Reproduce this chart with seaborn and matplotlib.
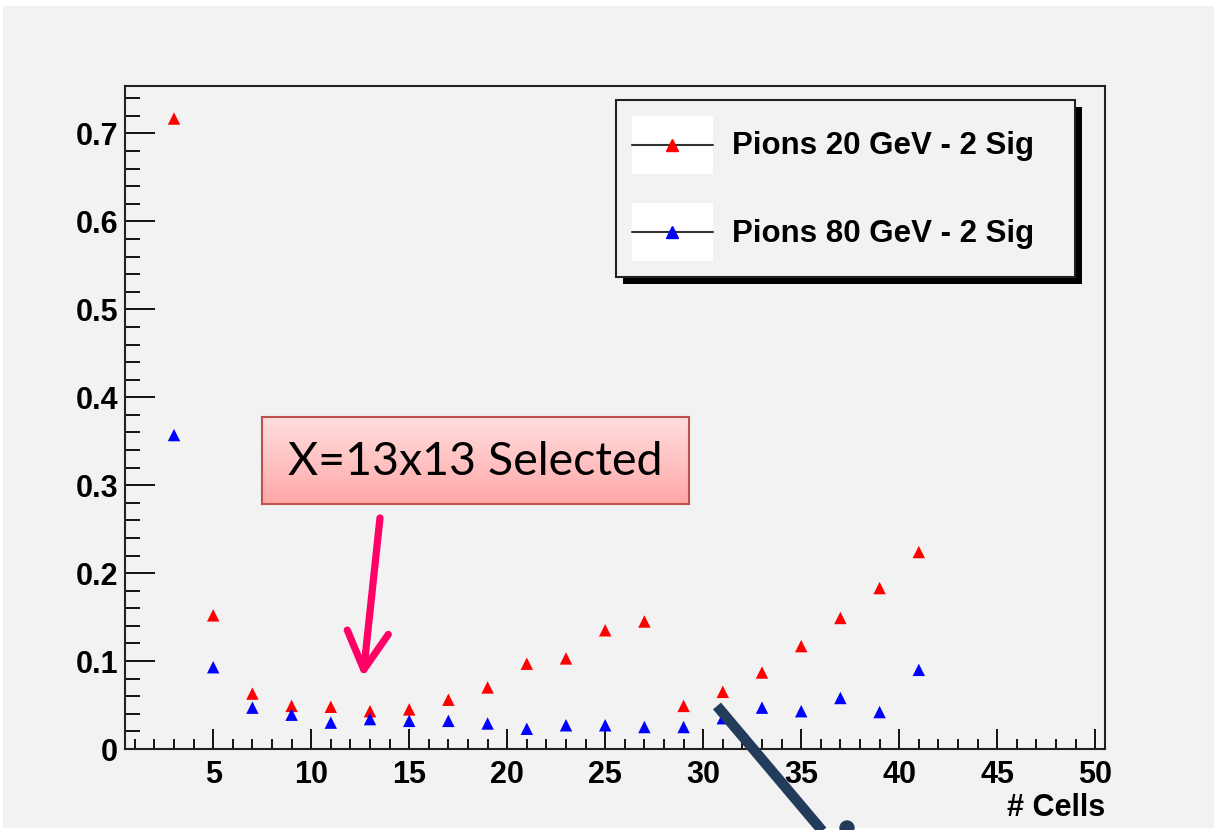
import numpy as np
import pandas as pd
import matplotlib
matplotlib.use('Agg')
import matplotlib.pyplot as plt
import seaborn as sns
from matplotlib.lines import Line2D
from matplotlib.patches import Rectangle, Circle, FancyArrowPatch
from matplotlib.legend_handler import HandlerLine2D
from matplotlib.ticker import MultipleLocator, FuncFormatter
from matplotlib.transforms import IdentityTransform

# data
cells = [3, 5, 7, 9, 11, 13, 15, 17, 19, 21, 23, 25, 27, 29, 31, 33, 35, 37, 39, 41]
pions_20 = [0.717, 0.152, 0.063, 0.049, 0.048, 0.043, 0.045, 0.056, 0.070, 0.097,
            0.103, 0.135, 0.145, 0.049, 0.065, 0.087, 0.117, 0.149, 0.183, 0.224]
pions_80 = [0.357, 0.093, 0.047, 0.039, 0.030, 0.034, 0.032, 0.032, 0.029, 0.023,
            0.027, 0.027, 0.025, 0.025, 0.035, 0.047, 0.043, 0.058, 0.042, 0.090]
series_names = ['Pions 20 GeV - 2 Sig', 'Pions 80 GeV - 2 Sig']
series_colors = ['#ff0000', '#0000ff']
note_text = 'X=13x13 Selected'

df = pd.DataFrame({
    'cells': cells * 2,
    'value': pions_20 + pions_80,
    'series': [series_names[0]] * len(cells) + [series_names[1]] * len(cells),
})

sns.set_style('ticks')
plt.rcParams['font.family'] = ['Liberation Sans', 'DejaVu Sans']
plt.rcParams['text.color'] = 'black'
plt.rcParams['xtick.color'] = '#111111'
plt.rcParams['ytick.color'] = '#111111'
plt.rcParams['xtick.labelcolor'] = 'black'
plt.rcParams['ytick.labelcolor'] = 'black'
plt.rcParams['axes.labelcolor'] = 'black'

W, H = 1214, 830
bg = '#f2f2f2'
ident = IdentityTransform()
fig = plt.figure(figsize=(W / 100, H / 100), dpi=100, facecolor='white')
fig.add_artist(Rectangle((3, 2), W - 3, H - 8, transform=ident, facecolor=bg,
                         edgecolor='none', zorder=-10))

ax = fig.add_axes([125 / W, 1 - 749 / H, (1105 - 125) / W, (749 - 86) / H])
ax.set_facecolor(bg)

sns.scatterplot(data=df, x='cells', y='value', hue='series',
                palette=dict(zip(series_names, series_colors)),
                marker='^', s=80, edgecolor='none', legend=False, ax=ax, zorder=3)

ax.set_xlim(0.5, 50.5)
ax.set_ylim(0, 0.754)
ax.xaxis.set_major_locator(MultipleLocator(5))
ax.xaxis.set_minor_locator(MultipleLocator(1))
ax.yaxis.set_major_locator(MultipleLocator(0.1))
ax.yaxis.set_minor_locator(MultipleLocator(0.02))
ax.yaxis.set_major_formatter(FuncFormatter(lambda v, p: '0' if abs(v) < 1e-9 else f'{v:.1f}'))
ax.tick_params(axis='x', which='major', direction='in', length=14.4, width=1.4,
               labelsize=22, pad=8, top=False)
ax.tick_params(axis='x', which='minor', direction='in', length=7.2, width=1.4, top=False)
ax.tick_params(axis='y', which='major', direction='in', length=21.6, width=1.4,
               labelsize=22, pad=5, right=False)
ax.tick_params(axis='y', which='minor', direction='in', length=10.8, width=1.4, right=False)
for lab in ax.get_xticklabels() + ax.get_yticklabels():
    lab.set_fontweight('bold')
for sp in ax.spines.values():
    sp.set_visible(True)
    sp.set_linewidth(1.5)
    sp.set_color('#222222')
ax.set_ylabel('')
ax.set_xlabel('# Cells', fontsize=22, fontweight='bold', loc='right', labelpad=2)


class BoxedHandler(HandlerLine2D):
    # white box behind each legend sample, line drawn through its middle
    def create_artists(self, legend, orig_handle, xdescent, ydescent, width, height,
                       fontsize, trans):
        arts = super().create_artists(legend, orig_handle, xdescent, 2 * ydescent,
                                      width, height, fontsize, trans)
        box = Rectangle((-xdescent, -ydescent), width, height, facecolor='white',
                        edgecolor='none', transform=trans)
        return [box] + arts


handles = [Line2D([], [], color='#333333', lw=1.5, marker='^', markersize=8.5,
                  markerfacecolor=c, markeredgecolor=c) for c in series_colors]
leg = fig.legend(handles, [n + '   ' for n in series_names], loc='upper left',
                 bbox_to_anchor=(616 / W, 1 - 100 / H), bbox_transform=fig.transFigure,
                 frameon=True, fancybox=False, shadow=False, borderaxespad=0,
                 borderpad=0.5, handlelength=2.6, handleheight=2.5, handletextpad=0.6,
                 labelspacing=0.92, prop={'family': 'Liberation Sans', 'weight': 'bold',
                                          'size': 22.5},
                 handler_map={Line2D: BoxedHandler()})
for t in leg.get_texts():
    t.set_color('black')
leg.get_frame().set_facecolor(bg)
leg.get_frame().set_edgecolor('#222222')
leg.get_frame().set_linewidth(1.5)
leg.get_frame().set_alpha(1)
leg.set_zorder(6)

fig.canvas.draw()
bb = leg.get_window_extent()
fig.add_artist(Rectangle((bb.x0 + 7, bb.y0 - 7), bb.width, bb.height,
                         facecolor='black', edgecolor='none', zorder=5, transform=ident))

# pink note box with gradient
nax = fig.add_axes([262 / W, 1 - 504 / H, (689 - 262) / W, (504 - 417) / H])
grad = np.linspace(0, 1, 64).reshape(-1, 1)
top_c = np.array([1.0, 0.87, 0.87])
bot_c = np.array([1.0, 0.66, 0.66])
img = top_c[None, None, :] * (1 - grad[:, :, None]) + bot_c[None, None, :] * grad[:, :, None]
nax.imshow(img, aspect='auto', extent=(0, 1, 0, 1), origin='upper')
nax.set_xticks([])
nax.set_yticks([])
for sp in nax.spines.values():
    sp.set_color('#c0504d')
    sp.set_linewidth(1.5)
nax.text(0.5, 0.48, note_text, ha='center', va='center', fontsize=33.5,
         family=['Lato', 'DejaVu Sans'], color='black', transform=nax.transAxes)

pink = FancyArrowPatch((380, H - 518), (363, H - 677), transform=ident,
                       arrowstyle='->,head_length=1.0,head_width=0.55', mutation_scale=27,
                       color='#ff0066', lw=5.2, shrinkA=0, shrinkB=0,
                       capstyle='round', joinstyle='round', zorder=7)
fig.add_artist(pink)

fig.add_artist(Line2D([717, 830], [H - 706, H - 840], transform=ident,
                      color='#243c5c', lw=7.5, solid_capstyle='butt', zorder=7))
fig.add_artist(Circle((847, H - 828), 7, transform=ident, color='#243c5c', zorder=7))

fig.savefig('out.png', dpi=100, facecolor='white')
